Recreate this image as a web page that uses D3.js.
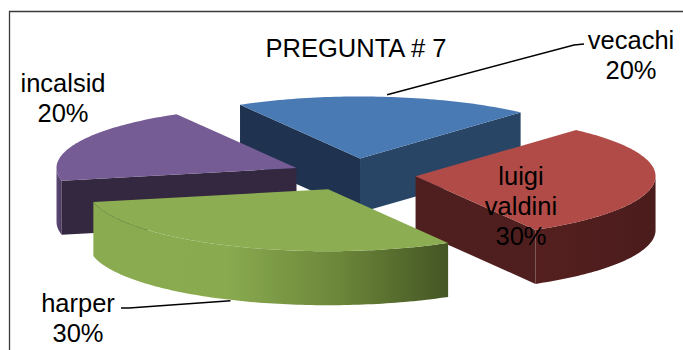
<!DOCTYPE html>
<html><head><meta charset="utf-8">
<script src="https://cdn.jsdelivr.net/npm/d3@7"></script>
<style>
html,body{margin:0;padding:0;background:#fff;}
svg{display:block;font-family:"Liberation Sans",Arial,sans-serif;}
</style></head>
<body>
<svg id="chart" width="683" height="350"></svg>
<script>
// ---- data ----
const categories = ["vecachi", "luigi valdini", "harper", "incalsid"];
const values = [20, 30, 30, 20];
const percentLabels = ["20%", "30%", "30%", "20%"];
const title = "PREGUNTA # 7";

// ---- styles ----
const topColors  = ["#4a7ab4", "#b04b47", "#8cad52", "#765c95"];
const cutColors  = ["#1f3350", "#4f1f1f", "#4a5d28", "#33283f"]; // start cut face
const cutColors2 = ["#294566", "#4f1f1f", "#4a5d28", "#33283f"]; // end cut face
const sideLight  = ["#294566", "#551f1f", "#8cad52", "#5e4a78"];
const sideDark   = ["#294566", "#4b1c1c", "#455825", "#4a3a5e"];

const svg = d3.select("#chart");
const W = 683, H = 350;
const cx = 353.5, cy = 174.5, rx = 240, ry = 62, depth = 54, explode = 0.26;

const data = categories.map((c, i) => ({cat: c, v: values[i], pct: percentLabels[i], i}));
const pie = d3.pie().sort(null).value(d => d.v)
  .startAngle(-Math.PI / 6).endAngle(2 * Math.PI - Math.PI / 6);
const arcs = pie(data);

// projection of ellipse
const px = d3.scaleLinear().domain([-1, 1]).range([-rx, rx]);
const py = d3.scaleLinear().domain([-1, 1]).range([-ry, ry]);

arcs.forEach(a => {
  const m = (a.startAngle + a.endAngle) / 2;
  a.mid = m;
  a.ox = cx + explode * px(Math.sin(m));
  a.oy = cy + explode * py(-Math.cos(m));
  a.rim = (t, dz = 0) => [a.ox + px(Math.sin(t)), a.oy + py(-Math.cos(t)) + dz];
});

const line = d3.line();
const defs = svg.append("defs");

function sample(a, t0, t1, dz) {
  const n = Math.max(2, Math.ceil(Math.abs(t1 - t0) / 0.02));
  return d3.range(n + 1).map(k => a.rim(t0 + (t1 - t0) * k / n, dz));
}

// frame
svg.append("path").attr("d", "M9.5,350 L9.5,11.5 L683,11.5")
  .attr("fill", "none").attr("stroke", "#3a3a3a").attr("stroke-width", 1.3);

const order = arcs.slice().sort((p, q) => p.oy - q.oy);
const g = svg.append("g");
order.forEach(a => {
  const i = a.data.i;
  const s = a.startAngle, e = a.endAngle;
  const apex = [a.ox, a.oy], apexB = [a.ox, a.oy + depth];
  if (Math.sin(s) < 0) {
    g.append("path").attr("d", line([apex, a.rim(s), a.rim(s, depth), apexB]) + "Z")
      .attr("fill", cutColors[i]);
  }
  if (Math.sin(e) > 0) {
    g.append("path").attr("d", line([apex, a.rim(e), a.rim(e, depth), apexB]) + "Z")
      .attr("fill", cutColors2[i]);
  }
  const t0 = Math.max(s, Math.PI / 2), t1 = Math.min(e, 3 * Math.PI / 2);
  if (t1 > t0) {
    const top = sample(a, t0, t1, 0);
    const bot = sample(a, t1, t0, depth);
    const xs = top.map(p => p[0]);
    const gid = "side" + i;
    const grad = defs.append("linearGradient").attr("id", gid)
      .attr("gradientUnits", "userSpaceOnUse")
      .attr("x1", d3.min(xs)).attr("x2", d3.max(xs)).attr("y1", 0).attr("y2", 0);
    if (i === 2) {
      grad.append("stop").attr("offset", 0).attr("stop-color", "#8aab50");
      grad.append("stop").attr("offset", 0.38).attr("stop-color", "#89aa4f");
      grad.append("stop").attr("offset", 0.7).attr("stop-color", "#6b8539");
      grad.append("stop").attr("offset", 1).attr("stop-color", "#445624");
    } else {
      grad.append("stop").attr("offset", 0).attr("stop-color", sideLight[i]);
      grad.append("stop").attr("offset", 1).attr("stop-color", sideDark[i]);
    }
    g.append("path").attr("d", line(top.concat(bot)) + "Z").attr("fill", `url(#${gid})`);
  }
  g.append("path").attr("d", line([apex].concat(sample(a, s, e, 0))) + "Z")
    .attr("fill", topColors[i]);
});

// title
svg.append("text").attr("x", 356).attr("y", 57).attr("text-anchor", "middle")
  .attr("font-size", 25.5).attr("fill", "#000").text(title);

// labels
const labelPos = [
  {x: 631, y: 49, lead: true, lx: 574, ly: 45, top: true},
  {x: 521, y: 185, lead: false},
  {x: 78, y: 312, lead: true, lx: 121, ly: 308, top: false},
  {x: 63, y: 92, lead: false}
];
const lblG = svg.append("g").attr("font-size", 25.5).attr("fill", "#000").attr("text-anchor", "middle");
arcs.forEach(a => {
  const i = a.data.i, p = labelPos[i];
  const words = i === 1 ? a.data.cat.split(" ").concat([a.data.pct]) : [a.data.cat, a.data.pct];
  const t = lblG.append("text").attr("x", p.x).attr("y", p.y);
  words.forEach((w, k) => t.append("tspan").attr("x", p.x).attr("dy", k === 0 ? 0 : 30).text(w));
  if (p.lead) {
    const target = p.top ? a.rim(a.mid, 0) : a.rim(a.mid, depth);
    const h = i === 0 ? [p.lx + 10, p.ly - 1] : [p.lx, p.ly];
    const pts = i === 0 ? [h, [p.lx, p.ly], [target[0] + 2, target[1] - 2]] : [[p.lx, p.ly], [p.lx + 8, p.ly], [target[0], target[1] + 1]];
    svg.append("path").attr("d", line(pts)).attr("fill", "none")
      .attr("stroke", "#000").attr("stroke-width", 1.5);
  }
});
</script>
</body></html>
